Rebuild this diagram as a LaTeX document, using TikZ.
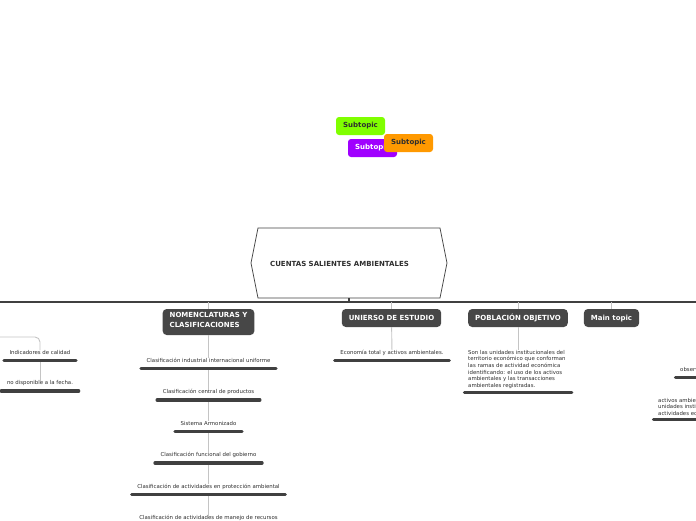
\documentclass[tikz,border=0pt]{standalone}
\usepackage{fontspec}
\setmainfont{DejaVu Sans}
\usetikzlibrary{arrows}
\tikzset{>=latex}
\definecolor{boxgray}{HTML}{474747}
\definecolor{linegray}{HTML}{404040}
\definecolor{linkgray}{HTML}{C4C4C4}
\definecolor{textgray}{HTML}{2E2E2E}
\definecolor{subgreen}{HTML}{80FF00}
\definecolor{subpurple}{HTML}{A000FF}
\definecolor{suborange}{HTML}{FF9900}

\begin{document}
\begin{tikzpicture}[x=1pt,y=-1pt,align=center]
\tikzstyle{sub} = [font=\fontsize{7}{10}\selectfont\bfseries,text=white,fill=boxgray,rounded corners=4pt,inner xsep=7pt,inner ysep=0pt,minimum height=18pt,text height=5.4pt,text depth=1.2pt]
\tikzstyle{note} = [font=\fontsize{5.4}{6.6}\selectfont,text=textgray,inner sep=0pt,align=left]
\tikzstyle{item} = [font=\fontsize{5.4}{6.6}\selectfont,text=textgray,inner sep=0pt,text height=3.9pt,text depth=1pt]
\tikzstyle{bar} = [line width=3.2pt,linegray,line cap=round]
\tikzstyle{link} = [linkgray,line width=0.9pt]
\tikzstyle{float} = [font=\fontsize{7}{8}\selectfont\bfseries,text=textgray,rounded corners=3pt,minimum width=49pt,minimum height=18pt,inner sep=0pt]
\useasboundingbox (0,0) rectangle (696,520);
\clip (0,0) rectangle (696,520);
% floating subtopics
\node[float,fill=subgreen] (s1) at (360.5,126) {Subtopic};
\node[float,fill=subpurple,text=white] (s2) at (372.5,148) {Subtopic};
\node[float,fill=suborange] (s3) at (408.5,143) {Subtopic};
% central topic
\draw[linegray,line width=0.7pt] (258,228) -- (440,228) -- (447,263) -- (440,298) -- (258,298) -- (251,263) -- cycle;
\node[font=\fontsize{7}{8}\selectfont\bfseries,text=textgray] (root) at (339.5,263.5) {CUENTAS SALIENTES AMBIENTALES};
\coordinate (rootb) at (349,298);
\coordinate (tl) at (0,302);
\coordinate (tr) at (696,302);
\draw[linegray,line width=1.4pt] (tl) -- (tr);
\draw[linegray,line width=2pt] (rootb) -- (rootb |- tl);
% main topics
\node[sub,align=left,minimum height=26pt,text height=12pt] (nom) at (208.5,322) {NOMENCLATURAS Y\\CLASIFICACIONES};
\node[sub] (uni) at (391.5,318) {UNIERSO DE ESTUDIO};
\node[sub] (pob) at (518,318) {POBLACIÓN OBJETIVO};
\node[sub] (mt) at (611.5,318) {Main topic};
\draw[link] (nom.north) -- (nom.north |- tl);
\draw[link] (uni.north) -- (uni.north |- tl);
\draw[link] (pob.north) -- (pob.north |- tl);
\draw[link] (mt.north) -- (mt.north |- tl);
% nomenclaturas
\node[item] (c1) at (208.5,361) {Clasificación industrial internacional uniforme};
\node[item] (c2) at (208.5,392.5) {Clasificación central de productos};
\node[item] (c3) at (208.5,424) {Sistema Armonizado};
\node[item] (c4) at (208.5,455.5) {Clasificación funcional del gobierno};
\node[item] (c5) at (208.5,487) {Clasificación de actividades en protección ambiental};
\node[item] (c6) at (208.5,518.5) {Clasificación de actividades de manejo de recursos};
\draw[link] (nom) -- (c1);
\draw[link] ([yshift=-7.5pt]c1.center) -- (c2);
\draw[link] ([yshift=-7.5pt]c2.center) -- (c3);
\draw[link] ([yshift=-7.5pt]c3.center) -- (c4);
\draw[link] ([yshift=-7.5pt]c4.center) -- (c5);
\draw[link] ([yshift=-7.5pt]c5.center) -- (c6);
\draw[bar] ([xshift=-5.5pt,yshift=-7.5pt]c1.west) -- ([xshift=5.5pt,yshift=-7.5pt]c1.east);
\draw[bar] ([xshift=-5.5pt,yshift=-7.5pt]c2.west) -- ([xshift=5.5pt,yshift=-7.5pt]c2.east);
\draw[bar] ([xshift=-5.5pt,yshift=-7.5pt]c3.west) -- ([xshift=5.5pt,yshift=-7.5pt]c3.east);
\draw[bar] ([xshift=-5.5pt,yshift=-7.5pt]c4.west) -- ([xshift=5.5pt,yshift=-7.5pt]c4.east);
\draw[bar] ([xshift=-5.5pt,yshift=-7.5pt]c5.west) -- ([xshift=5.5pt,yshift=-7.5pt]c5.east);
% universo
\node[item] (e1) at (392,353) {Economía total y activos ambientales.};
\draw[link] (uni) -- (e1);
\draw[bar] ([xshift=-5.5pt,yshift=-7.5pt]e1.west) -- ([xshift=5.5pt,yshift=-7.5pt]e1.east);
% poblacion
\node[note,anchor=north west] (p1) at (468,350) {Son las unidades institucionales del\\territorio económico que conforman\\las ramas de actividad económica\\identificando: el uso de los activos\\ambientales y las transacciones\\ambientales registradas.};
\draw[link] (pob) -- (pob |- p1.north);
\draw[bar] ([xshift=-3.5pt,yshift=-4pt]p1.south west) -- ([xshift=6pt,yshift=-4pt]p1.south east);
% left branch
\coordinate (lft) at (0,337);
\node[item] (ind) at (40,353) {Indicadores de calidad};
\node[item] (nd) at (40,383.5) {no disponible a la fecha.};
\draw[link,rounded corners=5pt] (lft) -| (ind);
\draw[link] ([yshift=-7.5pt]ind.center) -- (nd);
\draw[bar] ([xshift=-5.5pt,yshift=-7.5pt]ind.west) -- ([xshift=5.5pt,yshift=-7.5pt]ind.east);
\draw[bar] ([xshift=-5.5pt,yshift=-7.5pt]nd.west) -- ([xshift=5.5pt,yshift=-7.5pt]nd.east);
% right branch
\node[item,anchor=west] (o1) at (680,370) {observaciones};
\node[note,anchor=north west] (a1) at (658,398) {activos ambientales de las\\unidades institucionales y\\actividades económicas};
\draw[link] ([xshift=-1pt,yshift=-7.5pt]o1.east) -- (a1.north east);
\draw[bar] ([xshift=-4.5pt,yshift=-7.5pt]o1.west) -- ([xshift=5.5pt,yshift=-7.5pt]o1.east);
\draw[bar] ([xshift=-4.5pt,yshift=-4pt]a1.south west) -- ([xshift=5.5pt,yshift=-4pt]a1.south east);
\end{tikzpicture}
\end{document}
